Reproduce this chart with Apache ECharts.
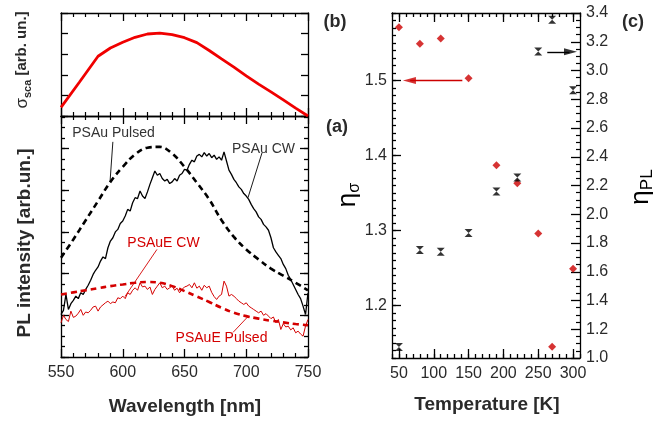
<!DOCTYPE html>
<html><head><meta charset="utf-8">
<script src="https://cdn.jsdelivr.net/npm/echarts@6/dist/echarts.min.js"></script>
<style>html,body{margin:0;padding:0;background:#fff;overflow:hidden}.c{width:665px;height:422px;position:absolute;left:0;top:0}#baseLayer{background:#fff;z-index:1}#dataLayer{z-index:2}</style>
</head><body><div class="c" id="baseLayer"></div><div class="c" id="dataLayer"></div>
<script>
// ---------- DATA ----------
const sigmaLambda = [550,565,580,590,600,610,620,630,640,650,660,670,680,690,700,710,720,730,740,750];
const sigmaSca    = [0.42,1.65,2.90,3.30,3.58,3.82,3.98,4.02,3.95,3.80,3.56,3.18,2.77,2.37,1.95,1.55,1.17,0.78,0.38,0.00];

const wavelength = [550,552,554,556,558,560,562,564,566,568,570,572,574,576,578,580,582,584,586,588,590,592,594,596,598,600,602,604,606,608,610,612,614,616,618,620,622,624,626,628,630,632,634,636,638,640,642,644,646,648,650,652,654,656,658,660,662,664,666,668,670,672,674,676,678,680,682,684,686,688,690,692,694,696,698,700,702,704,706,708,710,712,714,716,718,720,722,724,726,728,730,732,734,736,738,740,742,744,746,748,750];
const psauCW = [1.02,1.12,1.50,1.14,1.28,1.36,1.46,1.40,1.54,1.50,
  1.62,1.72,1.84,1.98,2.08,2.16,2.30,2.40,2.36,2.62,
  2.78,2.86,3.00,3.06,3.20,3.26,3.38,3.54,3.50,3.70,
  3.82,3.80,3.98,3.86,3.80,3.96,4.14,4.30,4.46,4.36,
  4.40,4.28,4.22,4.26,4.16,4.20,4.28,4.22,4.36,4.40,
  4.50,4.48,4.62,4.72,4.68,4.82,4.86,4.80,4.90,4.82,
  4.88,4.78,4.84,4.74,4.80,4.72,4.92,4.70,4.48,4.38,
  4.26,4.18,4.08,4.02,3.92,3.86,3.78,3.66,3.56,3.48,
  3.36,3.30,3.18,3.12,3.04,2.86,2.62,2.52,2.44,2.36,
  2.22,2.12,1.96,1.86,1.74,1.62,1.50,1.40,1.22,1.02,
  1.54];
const psaueCW = [0.82,1.00,0.90,0.85,1.10,0.95,0.98,1.05,1.14,1.00,
  1.08,1.06,1.12,1.20,1.22,1.10,1.20,1.25,1.30,1.34,
  1.28,1.32,1.30,1.42,1.40,1.46,1.40,1.54,1.50,1.60,
  1.66,1.60,1.78,1.68,1.70,1.62,1.68,1.50,1.62,1.70,
  1.78,1.66,1.70,1.62,1.66,1.70,1.60,1.65,1.54,1.62,
  1.68,1.70,1.74,1.66,1.78,1.65,1.70,1.60,1.72,1.66,
  1.70,1.55,1.45,1.38,1.46,1.50,1.82,1.70,1.46,1.50,
  1.46,1.40,1.34,1.30,1.26,1.30,1.22,1.18,1.14,1.10,
  1.06,1.10,1.00,1.04,0.98,0.92,0.96,0.82,0.90,0.66,
  0.80,0.72,0.74,0.65,0.70,0.58,0.62,0.55,0.50,0.74,
  0.90];

const pulsedLambda = [550,560,570,580,590,600,610,620,630,640,650,660,670,680,690,700,710,720,730,740,750];
const psauPulsed   = [2.38,2.82,3.28,3.74,4.20,4.56,4.86,5.02,5.04,4.88,4.56,4.18,3.78,3.28,2.88,2.58,2.34,2.12,1.95,1.78,1.60];
const psauePulsed  = [1.50,1.55,1.60,1.65,1.70,1.74,1.78,1.80,1.78,1.70,1.58,1.45,1.32,1.18,1.06,0.98,0.92,0.87,0.83,0.79,0.76];

const temperature = [50,80,110,150,190,220,250,270,300];
const etaSigma    = [1.571,1.549,1.556,1.503,1.387,1.363,1.296,1.145,1.249];
const etaPL       = [1.077,1.751,1.740,1.870,2.159,2.256,3.133,3.353,2.862];

const wlTickLabels   = [550,600,650,700,750];
const tempTickLabels = [50,100,150,200,250,300];
const etaSigmaTicks  = [1.2,1.3,1.4,1.5];
const plMajor        = [0,1,2,3,4,5];

// ---------- HELPERS ----------
const FONT = '"Liberation Sans", Arial, sans-serif';
const TXT = '#2a2a2a';
const RED = '#d40000';
const pairs = (xs, ys) => xs.map((x, i) => [x, ys[i]]);

function mk(grid, pos, min, max, o) {
  o = o || {};
  const a = {
    type: 'value', gridIndex: grid, position: pos, min: min, max: max,
    axisLine: {show: o.line !== false, onZero: false, lineStyle: {color: '#000', width: 1.3}},
    axisTick: {show: true, inside: true, length: o.tickLen || 8, lineStyle: {color: '#000', width: 1.3}},
    axisLabel: {show: false},
    splitLine: {show: false},
    minorTick: {show: false},
    minorSplitLine: {show: false},
    axisPointer: {show: false}
  };
  if (o.interval != null) a.interval = o.interval;
  if (o.ticks) a.axisTick.customValues = o.ticks;
  if (o.minor) a.minorTick = {show: true, splitNumber: o.minor, length: 4, lineStyle: {color: '#000', width: 1.2}};
  if (o.label) a.axisLabel = Object.assign({show: true, color: TXT, fontFamily: FONT, fontSize: 16}, o.label);
  if (o.hidden) {
    a.axisLine = {show: false, onZero: false};
    a.axisTick = {show: false};
    a.axisLabel = {show: false};
    a.minorTick = {show: false};
  }
  return a;
}

function buildAxes(hidden) {
  const h = o => Object.assign({hidden: hidden}, o);
  return {
    xAxis: [
      mk(0, 'bottom', 550, 750, h({interval: 50, minor: 5})),
      mk(0, 'top', 550, 750, h({interval: 50, minor: 5})),
      mk(1, 'bottom', 550, 750, h({interval: 50, minor: 5, label: {margin: 8, customValues: wlTickLabels}})),
      mk(1, 'top', 550, 750, h({interval: 50, minor: 5})),
      mk(2, 'bottom', 40, 310, h({interval: 10, tickLen: 4, label: {margin: 8, customValues: tempTickLabels}})),
      mk(2, 'bottom', 40, 310, h({ticks: tempTickLabels, line: false, tickLen: 9})),
      mk(2, 'top', 40, 310, h({interval: 10, tickLen: 4})),
      mk(2, 'top', 40, 310, h({ticks: tempTickLabels, line: false, tickLen: 9}))
    ],
    yAxis: [
      mk(0, 'left', 0, 5, h({interval: 1, tickLen: 7})),
      mk(0, 'right', 0, 5, h({interval: 1, tickLen: 7})),
      mk(1, 'left', 0, 5.78, h({interval: 0.25, tickLen: 4})),
      mk(1, 'left', 0, 5.78, h({ticks: plMajor, line: false, tickLen: 8})),
      mk(1, 'right', 0, 5.78, h({interval: 0.25, tickLen: 4})),
      mk(1, 'right', 0, 5.78, h({ticks: plMajor, line: false, tickLen: 8})),
      mk(2, 'left', 1.13, 1.59, h({interval: 0.01, tickLen: 4,
        label: {margin: 5, customValues: etaSigmaTicks, formatter: v => Number(v).toFixed(1)}})),
      mk(2, 'left', 1.13, 1.59, h({ticks: etaSigmaTicks, line: false, tickLen: 9})),
      mk(2, 'right', 1.0, 3.4, h({interval: 0.2, tickLen: 9, minor: 4,
        label: {margin: 6, formatter: v => Number(v).toFixed(1)}}))
    ]
  };
}

const grids = () => [
  {left: 61, top: 13, width: 247, height: 103},
  {left: 61, top: 116, width: 247, height: 241},
  {left: 392, top: 13, width: 188, height: 345}
];

const leader = (a, b, color) => [
  {coord: a, lineStyle: {color: color, width: 0.9, type: 'solid'}},
  {coord: b}
];

const hourglass = 'path://M0,0 L10,0 L5,5 Z M5,5 L10,10 L0,10 Z';

// ---- base layer: frames, ticks, tick labels ----
const baseAxes = buildAxes(false);
const baseChart = echarts.init(document.getElementById('baseLayer'));
baseChart.setOption({animation: false, grid: grids(), xAxis: baseAxes.xAxis, yAxis: baseAxes.yAxis, series: []});

// ---- data layer: curves, points and annotations ----
const dataAxes = buildAxes(true);
const dataChart = echarts.init(document.getElementById('dataLayer'));
dataChart.setOption({
  animation: false,
  grid: grids(),
  xAxis: dataAxes.xAxis,
  yAxis: dataAxes.yAxis,
  series: [
    {name: 'sigma_sca', type: 'line', xAxisIndex: 0, yAxisIndex: 0, data: pairs(sigmaLambda, sigmaSca),
      symbol: 'none', lineStyle: {color: '#f00000', width: 2.8}},
    {name: 'PSAuE CW', type: 'line', xAxisIndex: 2, yAxisIndex: 2, data: pairs(wavelength, psaueCW),
      symbol: 'none', lineStyle: {color: RED, width: 1}},
    {name: 'PSAu CW', type: 'line', xAxisIndex: 2, yAxisIndex: 2, data: pairs(wavelength, psauCW),
      symbol: 'none', lineStyle: {color: '#000', width: 1.3},
      markLine: {silent: true, animation: false, symbol: ['none', 'none'], label: {show: false},
        data: [
          leader([592, 5.16], [589.7, 4.2], '#000'),
          leader([712.8, 4.9], [701.4, 3.82], '#000'),
          leader([627.7, 2.58], [601.8, 1.45], RED),
          leader([689.3, 0.59], [701.4, 0.97], RED)
        ]}},
    {name: 'PSAu Pulsed', type: 'line', xAxisIndex: 2, yAxisIndex: 2, data: pairs(pulsedLambda, psauPulsed),
      symbol: 'none', smooth: 0.4, lineStyle: {color: '#000', width: 2.6, type: [6, 4]}},
    {name: 'PSAuE Pulsed', type: 'line', xAxisIndex: 2, yAxisIndex: 2, data: pairs(pulsedLambda, psauePulsed),
      symbol: 'none', smooth: 0.4, lineStyle: {color: RED, width: 2.6, type: [6, 4]}},
    {name: 'eta_sigma', type: 'scatter', xAxisIndex: 4, yAxisIndex: 6, data: pairs(temperature, etaSigma),
      symbol: 'diamond', symbolSize: 8, itemStyle: {color: '#cc0000'},
      markLine: {silent: true, animation: false, symbol: ['none', 'none'], label: {show: false},
        lineStyle: {color: '#cc0000', width: 1.4, type: 'solid'},
        data: [[{coord: [141, 1.5]}, {coord: [66, 1.5]}]]}},
    {name: 'eta_sigma arrow', type: 'scatter', xAxisIndex: 4, yAxisIndex: 6, data: [[65, 1.5]],
      symbol: 'triangle', symbolSize: [7, 13], symbolRotate: 90, itemStyle: {color: '#cc0000'}, silent: true},
    {name: 'eta_PL', type: 'scatter', xAxisIndex: 4, yAxisIndex: 8, data: pairs(temperature, etaPL),
      symbol: hourglass, symbolSize: [8, 8], itemStyle: {color: '#000'},
      markLine: {silent: true, animation: false, symbol: ['none', 'none'], label: {show: false},
        lineStyle: {color: '#000', width: 1.4, type: 'solid'},
        data: [[{coord: [263, 3.13]}, {coord: [295, 3.13]}]]}},
    {name: 'eta_PL arrow', type: 'scatter', xAxisIndex: 4, yAxisIndex: 8, data: [[296.4, 3.13]],
      symbol: 'triangle', symbolSize: [7, 13], symbolRotate: -90, itemStyle: {color: '#000'}, silent: true}
  ],
  graphic: [
    {type: 'text', x: 113.5, y: 133, style: {text: 'PSAu Pulsed', font: '14px ' + FONT, fill: '#333', align: 'center', verticalAlign: 'middle'}},
    {type: 'text', x: 263.5, y: 149, style: {text: 'PSAu CW', font: '14px ' + FONT, fill: '#333', align: 'center', verticalAlign: 'middle'}},
    {type: 'text', x: 163.5, y: 243, style: {text: 'PSAuE CW', font: '14px ' + FONT, fill: RED, align: 'center', verticalAlign: 'middle'}},
    {type: 'text', x: 221.5, y: 338, style: {text: 'PSAuE Pulsed', font: '14px ' + FONT, fill: RED, align: 'center', verticalAlign: 'middle'}},
    {type: 'text', x: 335, y: 22, style: {text: '(b)', font: 'bold 18px ' + FONT, fill: TXT, align: 'center', verticalAlign: 'middle'}},
    {type: 'text', x: 337, y: 127, style: {text: '(a)', font: 'bold 18px ' + FONT, fill: TXT, align: 'center', verticalAlign: 'middle'}},
    {type: 'text', x: 633, y: 22, style: {text: '(c)', font: 'bold 18px ' + FONT, fill: TXT, align: 'center', verticalAlign: 'middle'}},
    {type: 'text', x: 185, y: 407, style: {text: 'Wavelength [nm]', font: 'bold 19px ' + FONT, fill: TXT, align: 'center', verticalAlign: 'middle'}},
    {type: 'text', x: 487, y: 405, style: {text: 'Temperature [K]', font: 'bold 19px ' + FONT, fill: TXT, align: 'center', verticalAlign: 'middle'}},
    {type: 'text', x: 25, y: 243, rotation: Math.PI / 2,
      style: {text: 'PL intensity [arb.un.]', font: 'bold 19px ' + FONT, fill: TXT, align: 'center', verticalAlign: 'middle'}},
    {type: 'text', x: 22, y: 60, rotation: Math.PI / 2,
      style: {text: '{m|σ}{s|sca}{b| [arb. un.]}', align: 'center', verticalAlign: 'middle', fill: TXT,
        rich: {
          m: {fontFamily: FONT, fontSize: 17, lineHeight: 22, verticalAlign: 'middle', color: TXT},
          s: {fontFamily: FONT, fontSize: 11, fontWeight: 'bold', lineHeight: 22, verticalAlign: 'bottom', padding: [8, 0, 0, 0], color: TXT},
          b: {fontFamily: FONT, fontSize: 15, fontWeight: 'bold', lineHeight: 22, verticalAlign: 'middle', color: TXT}
        }}},
    {type: 'text', x: 348, y: 195, rotation: Math.PI / 2,
      style: {text: '{m|η}{s|σ}', align: 'center', verticalAlign: 'middle',
        rich: {
          m: {fontFamily: FONT, fontSize: 26, lineHeight: 30, verticalAlign: 'middle', color: RED},
          s: {fontFamily: FONT, fontSize: 16, lineHeight: 30, verticalAlign: 'bottom', padding: [10, 0, 0, 0], color: RED}
        }}},
    {type: 'text', x: 641, y: 187, rotation: Math.PI / 2,
      style: {text: '{m|η}{s|PL}', align: 'center', verticalAlign: 'middle',
        rich: {
          m: {fontFamily: FONT, fontSize: 26, lineHeight: 30, verticalAlign: 'middle', color: TXT},
          s: {fontFamily: FONT, fontSize: 17, lineHeight: 30, verticalAlign: 'bottom', padding: [10, 0, 0, 0], color: TXT}
        }}}
  ]
});
</script></body></html>
